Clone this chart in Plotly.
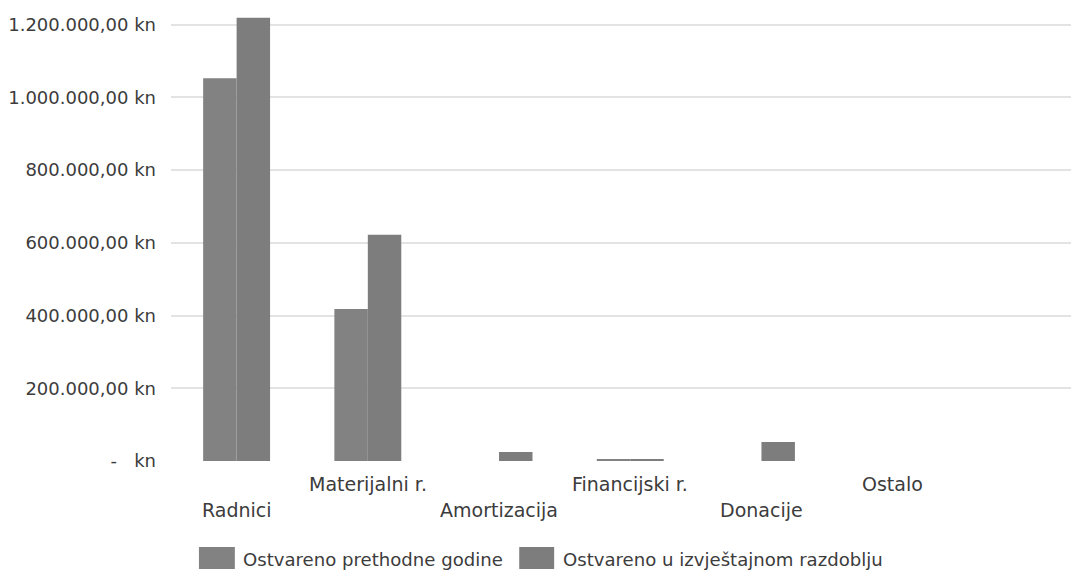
import plotly.graph_objects as go

categories = ["Radnici", "Materijalni r.", "Amortizacija", "Financijski r.", "Donacije", "Ostalo"]
prethodne = [1053000, 418000, 0, 4000, 0, 0]
razdoblje = [1219000, 622000, 25000, 5000, 52000, 0]
series_names = ["Ostvareno prethodne godine", "Ostvareno u izvještajnom razdoblju"]
series_colors = ["#828282", "#7d7d7d"]
tick_values = [0, 200000, 400000, 600000, 800000, 1000000, 1200000]
tick_labels = ["-\u00a0\u00a0\u00a0kn", "200.000,00 kn", "400.000,00 kn", "600.000,00 kn",
               "800.000,00 kn", "1.000.000,00 kn", "1.200.000,00 kn"]
label_row = [1, 0, 1, 0, 1, 0]  # 0 = upper row, 1 = lower row

FONT = "DejaVu Sans"
TXT = "#3c3c3c"

# figure geometry (page is offset by 8px body margin)
W, H = 1071, 563
ML, MR, MT, MB = 161, 0, 0, 110
PW, PH = W - ML - MR, H - MT - MB
OFF = 8


def px_x(page_x):
    return (page_x - OFF - ML) / PW


def px_y(page_y):
    return (MT + PH - (page_y - OFF)) / PH


x_idx = list(range(len(categories)))

fig = go.Figure()
fig.add_trace(go.Bar(x=x_idx, y=prethodne, name=series_names[0], showlegend=False,
                     marker=dict(color=series_colors[0], line=dict(width=0))))
fig.add_trace(go.Bar(x=x_idx, y=razdoblje, name=series_names[1], showlegend=False,
                     marker=dict(color=series_colors[1], line=dict(width=0))))

# staggered category labels
for i, (cat, row) in enumerate(zip(categories, label_row)):
    fig.add_annotation(x=i, xref="x", y=px_y(484 if row == 0 else 510), yref="paper",
                       text=cat, showarrow=False, font=dict(family=FONT, size=19, color=TXT),
                       yanchor="middle", xanchor="center")

# legend drawn with swatches + texts
legend_items = [(197, 233, 239), (518, 553, 560)]
for (sx0, sx1, tx), name, col in zip(legend_items, series_names, series_colors):
    fig.add_shape(type="rect", xref="paper", yref="paper",
                  x0=px_x(sx0), x1=px_x(sx1), y0=px_y(569), y1=px_y(547),
                  fillcolor=col, line=dict(width=0))
    fig.add_annotation(x=px_x(tx), xref="paper", y=px_y(559), yref="paper",
                       text=name, showarrow=False, xanchor="left", yanchor="middle",
                       font=dict(family=FONT, size=18.1, color=TXT))

fig.update_layout(
    width=W, height=H,
    margin=dict(l=ML, r=MR, t=MT, b=MB),
    paper_bgcolor="white", plot_bgcolor="white",
    barmode="group", bargap=0.49, bargroupgap=0,
    font=dict(family=FONT, size=18, color=TXT),
    showlegend=False,
    xaxis=dict(range=[-0.5, 6.42], showticklabels=False, showgrid=False,
               zeroline=False, showline=False, ticks=""),
    yaxis=dict(range=[0, 1246000], tickvals=tick_values, ticktext=tick_labels,
               showgrid=True, gridcolor="#e3e3e3", gridwidth=2, zeroline=False,
               showline=False, ticks="", ticklabelstandoff=14,
               tickfont=dict(family=FONT, size=18, color=TXT)),
)

fig.write_html("out.html")
